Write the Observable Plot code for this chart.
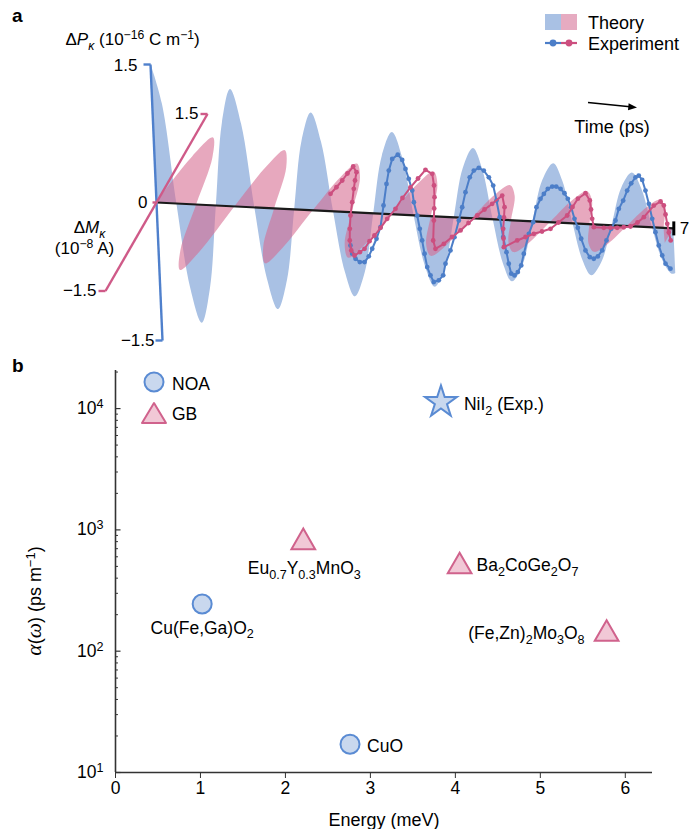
<!DOCTYPE html>
<html><head><meta charset="utf-8">
<script src="https://cdn.jsdelivr.net/npm/d3@7"></script>
<script src="https://cdn.jsdelivr.net/npm/@observablehq/plot@0.6"></script>
<style>
body{margin:0;background:#fff;font-family:"Liberation Sans",Arial,sans-serif;}
#wrap{position:relative;width:691px;height:829px;overflow:hidden;background:#fff;}
.panel{position:absolute;left:0;}
.lbl{position:absolute;font-weight:bold;font-size:19px;color:#000;}
</style></head><body><div id="wrap">
<div id="pa" class="panel" style="top:0"></div>
<div id="pb" class="panel" style="top:350px"></div>
<div class="lbl" style="left:12px;top:5px">a</div>
<div class="lbl" style="left:12px;top:355px">b</div>
<svg id="ov" style="position:absolute;left:0;top:0;pointer-events:none" width="691" height="829" font-family="Liberation Sans, Arial, sans-serif" font-size="18">
  <rect x="545" y="14" width="16" height="16" fill="#a9c1e4"/>
  <rect x="561" y="14" width="16" height="16" fill="#e6abc1"/>
  <text x="588" y="28.5">Theory</text>
  <line x1="545" y1="43" x2="561" y2="43" stroke="#4c7ec8" stroke-width="2.2"/>
  <line x1="561" y1="43" x2="577" y2="43" stroke="#cc4f7f" stroke-width="2.2"/>
  <circle cx="553" cy="43" r="3.4" fill="#4c7ec8"/>
  <circle cx="569" cy="43" r="3.4" fill="#cc4f7f"/>
  <text x="588" y="49.5">Experiment</text>
  <line x1="588" y1="102.5" x2="630" y2="106.7" stroke="#000" stroke-width="1.4"/>
  <polygon points="637,107.4 628.6,103.2 628.0,110.2" fill="#000"/>
  <text x="612" y="132.5" text-anchor="middle">Time (ps)</text>
  <circle cx="154" cy="382" r="9.5" fill="#c9d8ee" stroke="#5a8bd3" stroke-width="2"/>
  <text x="172" y="390" font-size="17.5">NOA</text>
  <polygon points="154,403 166,423 142,423" fill="#f1c8d6" stroke="#d0628c" stroke-width="2" stroke-linejoin="round"/>
  <text x="172" y="420" font-size="17.5">GB</text>
  <text id="ylab" transform="translate(41,601) rotate(-90)" text-anchor="middle" font-size="18">~{α}(~{ω})  (ps m^{−1})</text>
</svg>
</div>
<script>
// ---------- Panel a data (time in ps, ΔP in 1e-16 C/m, ΔM in 1e-8 A) ----------
const tTheoryP = [0,0.1375,0.275,0.4125,0.55,0.68,0.81,0.94,1.07,1.20,1.33,1.46,1.59,1.73,1.87,2.01,2.15,2.2725,2.395,2.5175,2.64,2.79,2.94,3.09,3.24,3.3625,3.485,3.6075,3.73,3.88,4.03,4.18,4.33,4.4425,4.555,4.6675,4.78,4.9375,5.095,5.2525,5.41,5.5225,5.635,5.7475,5.86,6.0125,6.165,6.3175,6.47,6.59,6.71,6.83,6.95,7.0];
const theoryP  = [1.52,1.075,0,-0.912,-1.29,-0.912,0,0.898,1.27,0.898,0,-0.778,-1.10,-0.778,0,0.749,1.06,0.749,0,-0.650,-0.92,-0.650,0,0.629,0.89,0.629,0,-0.544,-0.77,-0.544,0,0.537,0.76,0.537,0,-0.474,-0.67,-0.474,0,0.452,0.64,0.452,0,-0.396,-0.56,-0.396,0,0.410,0.58,0.410,0,-0.354,-0.50,-0.49];
const tTheoryM = [0,0.13,0.26,0.4025,0.545,0.6875,0.83,0.9475,1.065,1.1825,1.30,1.45,1.60,1.75,1.90,2.0125,2.125,2.2375,2.35,2.50,2.65,2.80,2.95,3.0675,3.185,3.3025,3.42,3.57,3.72,3.87,4.02,4.1475,4.275,4.4025,4.53,4.6675,4.805,4.9425,5.08,5.2075,5.335,5.4625,5.59,5.7275,5.865,6.0025,6.14,6.2575,6.375,6.4925,6.61,6.74,6.87,7.0];
const theoryM  = [0,0.785,1.11,0.785,0,-0.778,-1.10,-0.778,0,0.679,0.96,0.679,0,-0.650,-0.92,-0.650,0,0.566,0.80,0.566,0,-0.537,-0.76,-0.537,0,0.516,0.73,0.516,0,-0.467,-0.66,-0.467,0,0.403,0.57,0.403,0,-0.375,-0.53,-0.375,0,0.375,0.53,0.375,0,-0.325,-0.46,-0.325,0,0.318,0.45,0.318,0,-0.25];
const tExpP = [2.605,2.624,2.666,2.722,2.786,2.847,2.898,2.962,3.023,3.077,
  3.130,3.169,3.222,3.300,3.357,3.396,3.435,3.475,3.490,3.528,
  3.555,3.580,3.605,3.633,3.673,3.713,3.782,3.845,3.883,3.958,
  4.020,4.089,4.143,4.196,4.263,4.322,4.391,4.457,4.522,4.576,
  4.612,4.646,4.681,4.717,4.741,4.769,4.812,4.859,4.909,4.951,
  5.031,5.097,5.150,5.210,5.258,5.315,5.376,5.430,5.487,5.538,
  5.580,5.621,5.659,5.699,5.738,5.789,5.844,5.897,5.953,6.016,
  6.080,6.151,6.214,6.266,6.330,6.390,6.449,6.511,6.556,6.600,
  6.638,6.676,6.713,6.749,6.786,6.827,6.867,6.931];
const expP = [-0.362,-0.451,-0.504,-0.538,-0.536,-0.471,-0.386,-0.275,-0.147,0.091,
  0.328,0.474,0.603,0.653,0.598,0.502,0.395,0.270,0.143,0.0,
  -0.143,-0.268,-0.412,-0.556,-0.644,-0.715,-0.694,-0.637,-0.509,-0.362,
  -0.215,-0.031,0.115,0.280,0.445,0.521,0.553,0.526,0.456,0.368,
  0.207,0.027,-0.188,-0.350,-0.475,-0.582,-0.599,-0.561,-0.486,-0.358,
  -0.138,-0.009,0.156,0.249,0.305,0.362,0.389,0.391,0.369,0.323,
  0.264,0.175,0.050,-0.046,-0.163,-0.288,-0.359,-0.374,-0.347,-0.279,
  -0.168,-0.038,0.054,0.183,0.276,0.387,0.468,0.536,0.556,0.511,
  0.397,0.254,0.093,-0.051,-0.194,-0.301,-0.389,-0.441];
const tExpM = [2.223,2.251,2.276,2.292,2.314,2.401,2.444,2.491,2.572,2.650,
  2.742,2.830,2.925,3.006,3.051,3.087,3.095,3.117,3.138,3.158,
  3.191,3.201,3.225,3.258,3.290,3.409,3.521,3.616,3.698,3.784,
  3.927,4.020,4.092,4.148,4.211,4.259,4.317,4.367,4.425,4.494,
  4.613,4.684,4.759,4.837,4.907,5.032,5.115,5.200,5.290,5.382,
  5.439,5.500,5.506,5.513,5.572,5.684,5.768,5.854,5.939,6.075,
  6.163,6.251,6.333,6.416,6.478,6.521,6.564,6.622,6.695,6.786,
  6.879,6.966,7.050];
const expM = [0.287,0.400,0.516,0.635,0.755,0.664,0.526,0.388,0.166,-0.054,
  -0.274,-0.467,-0.630,-0.710,-0.651,-0.591,-0.462,-0.364,-0.232,-0.078,
  0.093,0.277,0.460,0.611,0.760,0.700,0.509,0.317,0.130,-0.068,
  -0.398,-0.533,-0.443,-0.325,-0.210,-0.080,0.050,0.155,0.255,0.400,
  0.210,0.040,-0.147,-0.307,-0.450,-0.328,-0.264,-0.204,-0.160,-0.108,
  0.002,0.125,0.269,0.410,0.507,0.390,0.243,0.090,-0.046,-0.048,
  -0.042,-0.037,-0.022,-0.004,0.067,0.160,0.360,0.432,0.369,0.222,
  0.070,-0.072,-0.200];
const pAxisTicks = [-1.5, 0, 1.5];
const mAxisTicks = [-1.5, 0, 1.5];
const timeTicks = [0, 7];

// ---------- Panel b data ----------
const materials = ["NiI_{2} (Exp.)","Eu_{0.7}Y_{0.3}MnO_{3}","Ba_{2}CoGe_{2}O_{7}","Cu(Fe,Ga)O_{2}","(Fe,Zn)_{2}Mo_{3}O_{8}","CuO"];
const energy    = [3.83, 2.21, 4.05, 1.02, 5.78, 2.76];
const alpha     = [11300, 790, 500, 245, 139, 17.1];
const mechanism = ["Exp", "GB", "GB", "NOA", "GB", "NOA"];
const xTicks = [0,1,2,3,4,5,6];
const yTicks = [10,100,1000,10000];

// ---------- helpers ----------
const FONT = "Liberation Sans, Arial, Helvetica, sans-serif";
const C = {blueFill:"#a9c1e4", pinkFill:"#d5698f", blue:"#4c7ec8", pink:"#cc4f7f",
           blueAxis:"#4f80cc", pinkAxis:"#cf5a88"};
// oblique projection (pixels per unit) of the 3D (time, ΔP, ΔM) frame
const proj = {t:[73.9, 3.7], P:[-4, -92], M:[34, -59]};
const U = (t,P,M) => proj.t[0]*t + proj.P[0]*P + proj.M[0]*M;
const V = (t,P,M) => proj.t[1]*t + proj.P[1]*P + proj.M[1]*M;
const fmt = d => d < 0 ? "\u2212" + Math.abs(d) : String(d);
const cap = 7;

function richify(root){
  const leaves = [...root.querySelectorAll("text, tspan")].filter(el => el.children.length === 0 && /[_^|~]+\{/.test(el.textContent));
  for (const el of leaves){
    const s = el.textContent;
    const fs = parseFloat(getComputedStyle(el).fontSize) || 17;
    el.textContent = "";
    const re = /([_^|~]+)\{([^}]*)\}|([^_^|~{}]+)/g;
    let m, shift = 0;
    while ((m = re.exec(s))){
      const ts = document.createElementNS("http://www.w3.org/2000/svg","tspan");
      let target = 0;
      if (m[3] !== undefined){ ts.textContent = m[3]; }
      else {
        const f = m[1]; ts.textContent = m[2];
        if (f.includes("_")){ target = 0.28*fs; ts.setAttribute("font-size", (0.72*fs).toFixed(1)); }
        if (f.includes("^")){ target = -0.36*fs; ts.setAttribute("font-size", (0.72*fs).toFixed(1)); }
        if (f.includes("|")) ts.setAttribute("font-style","italic");
        if (f.includes("~")){ ts.setAttribute("font-style","italic"); ts.setAttribute("font-family","Liberation Serif, DejaVu Serif, serif"); ts.setAttribute("font-size", (1.2*fs).toFixed(1)); }
      }
      const dy = target - shift;
      if (Math.abs(dy) > 1e-6) ts.setAttribute("dy", dy.toFixed(2));
      shift = target;
      el.appendChild(ts);
    }
  }
}

// ---------- Panel a ----------
const thP = tTheoryP.map((t,i)=>({t, P: theoryP[i]}));
const thM = tTheoryM.map((t,i)=>({t, M: theoryM[i]}));
const exP = tExpP.map((t,i)=>({t, P: expP[i]}));
const exM = tExpM.map((t,i)=>({t, M: expM[i]}));
const tEnd = timeTicks[timeTicks.length-1];

const chartA = Plot.plot({
  width: 691, height: 350, margin: 0,
  x: {domain: [-156, 535], range: [0, 691], axis: null},
  y: {domain: [-202, 148], range: [0, 350], axis: null},
  style: {fontFamily: FONT, fontSize: "17px", background: "transparent", overflow: "visible", color: "#000"},
  marks: [
    Plot.area(thP, {x1: d=>U(d.t,0,0), y1: d=>V(d.t,0,0), x2: d=>U(d.t,d.P,0), y2: d=>V(d.t,d.P,0), fill: C.blueFill, curve: "catmull-rom"}),
    Plot.area(thM, {x1: d=>U(d.t,0,0), y1: d=>V(d.t,0,0), x2: d=>U(d.t,0,d.M), y2: d=>V(d.t,0,d.M), fill: C.pinkFill, fillOpacity: 0.58, curve: "catmull-rom"}),
    // time axis
    Plot.link([tEnd], {x1: ()=>U(0,0,0), y1: ()=>V(0,0,0), x2: d=>U(d,0,0), y2: d=>V(d,0,0), stroke: "#1a1a1a", strokeWidth: 2.2}),
    Plot.link([tEnd], {x1: d=>U(d,0,0), y1: d=>V(d,0,0)-7, x2: d=>U(d,0,0), y2: d=>V(d,0,0)+7, stroke: "#000", strokeWidth: 3}),
    // ΔP axis
    Plot.link([d3.extent(pAxisTicks)], {x1: d=>U(0,d[0],0), y1: d=>V(0,d[0],0), x2: d=>U(0,d[1],0), y2: d=>V(0,d[1],0), stroke: C.blueAxis, strokeWidth: 2.4}),
    Plot.link(pAxisTicks.filter(d=>d!==0), {x1: d=>U(0,d,0), y1: d=>V(0,d,0), x2: d=>U(0,d,0)-cap, y2: d=>V(0,d,0), stroke: C.blueAxis, strokeWidth: 2.4}),
    // ΔM axis
    Plot.link([d3.extent(mAxisTicks)], {x1: d=>U(0,0,d[0]), y1: d=>V(0,0,d[0]), x2: d=>U(0,0,d[1]), y2: d=>V(0,0,d[1]), stroke: C.pinkAxis, strokeWidth: 2.4}),
    Plot.link(mAxisTicks, {x1: d=>U(0,0,d), y1: d=>V(0,0,d), x2: d=>U(0,0,d)-(d===0?4:cap), y2: d=>V(0,0,d), stroke: C.pinkAxis, strokeWidth: 2.4}),
    // experiments
    Plot.line(exP, {x: d=>U(d.t,d.P,0), y: d=>V(d.t,d.P,0), stroke: C.blue, strokeWidth: 2}),
    Plot.dot(exP, {x: d=>U(d.t,d.P,0), y: d=>V(d.t,d.P,0), r: 2.4, fill: C.blue}),
    Plot.line(exM, {x: d=>U(d.t,0,d.M), y: d=>V(d.t,0,d.M), stroke: C.pink, strokeWidth: 2}),
    Plot.dot(exM, {x: d=>U(d.t,0,d.M), y: d=>V(d.t,0,d.M), r: 2.4, fill: C.pink}),
    // tick labels
    Plot.text(pAxisTicks.filter(d=>d>0), {x: d=>U(0,d,0), y: d=>V(0,d,0), text: fmt, textAnchor: "end", dx: -13, dy: 1, fontSize: 17}),
    Plot.text(pAxisTicks.filter(d=>d<0), {x: d=>U(0,d,0), y: d=>V(0,d,0), text: fmt, textAnchor: "end", dx: -8, dy: 0, fontSize: 17}),
    Plot.text([0], {x: d=>U(0,d,0), y: d=>V(0,d,0), text: fmt, textAnchor: "end", dx: -9, fontSize: 17}),
    Plot.text(mAxisTicks.filter(d=>d!==0), {x: d=>U(0,0,d), y: d=>V(0,0,d), text: fmt, textAnchor: "end", dx: -9, dy: 0, fontSize: 17}),
    Plot.text([tEnd], {x: d=>U(d,0,0), y: d=>V(d,0,0), text: fmt, textAnchor: "start", dx: 6, fontSize: 17}),
    // axis titles
    Plot.text([d3.max(pAxisTicks)], {x: d=>U(0,d,0), y: d=>V(0,d,0), text: ()=>"Δ|{P}_|{κ} (10^{\u221216} C m^{\u22121})", textAnchor: "start", dx: -85, dy: -25, fontSize: 17}),
    Plot.text([0], {x: d=>U(0,0,d), y: d=>V(0,0,d), text: ()=>"Δ|{M}_|{κ}", textAnchor: "middle", dx: -67, dy: 25, fontSize: 17}),
    Plot.text([0], {x: d=>U(0,0,d), y: d=>V(0,0,d), text: ()=>"(10^{\u22128} A)", textAnchor: "middle", dx: -72, dy: 46, fontSize: 17})
  ]
});
document.getElementById("pa").appendChild(chartA);

// ---------- Panel b ----------
const pts = materials.map((name,i)=>({name, e: energy[i], a: alpha[i], mech: mechanism[i]}));
const minors = yTicks.flatMap(b => d3.range(2,10).map(k => k*b)).filter(v => v <= 20600);
const symStyle = {
  NOA: {symbol: "circle", r: 9.5, fill: "#c9d8ee", stroke: "#5a8bd3"},
  GB:  {symbol: "triangle", r: 8.8, fill: "#f1c8d6", stroke: "#d0628c"},
  Exp: {symbol: "star", r: 10, fill: "#c9d8ee", stroke: "#5a8bd3"}
};
const labelPos = {
  "NiI_{2} (Exp.)": {textAnchor: "start", dx: 23, dy: 2},
  "Eu_{0.7}Y_{0.3}MnO_{3}": {textAnchor: "middle", dx: 1, dy: 26},
  "Ba_{2}CoGe_{2}O_{7}": {textAnchor: "start", dx: 17, dy: -1},
  "Cu(Fe,Ga)O_{2}": {textAnchor: "middle", dx: 0, dy: 24},
  "(Fe,Zn)_{2}Mo_{3}O_{8}": {textAnchor: "end", dx: -22, dy: 0},
  "CuO": {textAnchor: "start", dx: 17, dy: 2}
};

const chartB = Plot.plot({
  width: 691, height: 479, marginLeft: 115, marginRight: 39, marginTop: 20, marginBottom: 57,
  x: {domain: [0, 6.32]},
  y: {type: "log", domain: [10, 20600]},
  style: {fontFamily: FONT, fontSize: "17px", background: "transparent", overflow: "visible", color: "#000"},
  marks: [
    Plot.ruleY(minors, {x1: 0, x2: 0.035, stroke: "#333", strokeWidth: 1}),
    Plot.ruleY(yTicks, {x1: 0, x2: 0.065, stroke: "#333", strokeWidth: 1.2}),
    Plot.ruleX([0], {stroke: "#333", strokeWidth: 1.6}),
    Plot.ruleY([10], {stroke: "#333", strokeWidth: 1.6}),
    Plot.axisX({ticks: xTicks, tickSize: 6, tickPadding: 3, tickFormat: d=>String(d), fontSize: 17.5, stroke: "#333", label: null}),
    Plot.axisY({ticks: yTicks, tickSize: 0, tickPadding: 12, tickFormat: d=>`10^{${Math.round(Math.log10(d))}}`, fontSize: 17.5, label: null}),
    ...Object.entries(symStyle).map(([k,s]) => Plot.dot(pts.filter(d=>d.mech===k), {x: "e", y: "a", symbol: s.symbol, r: s.r, fill: s.fill, stroke: s.stroke, strokeWidth: 2})),
    ...pts.map(p => Plot.text([p], {x: "e", y: "a", text: "name", fontSize: 17.5, lineAnchor: "middle", ...labelPos[p.name]})),
    Plot.text(["Energy (meV)"], {frameAnchor: "bottom", dy: 48, fontSize: 18, lineAnchor: "middle"})
  ]
});
document.getElementById("pb").appendChild(chartB);

richify(chartA);
richify(chartB);
richify(document.getElementById("ov"));
</script>
</body></html>
